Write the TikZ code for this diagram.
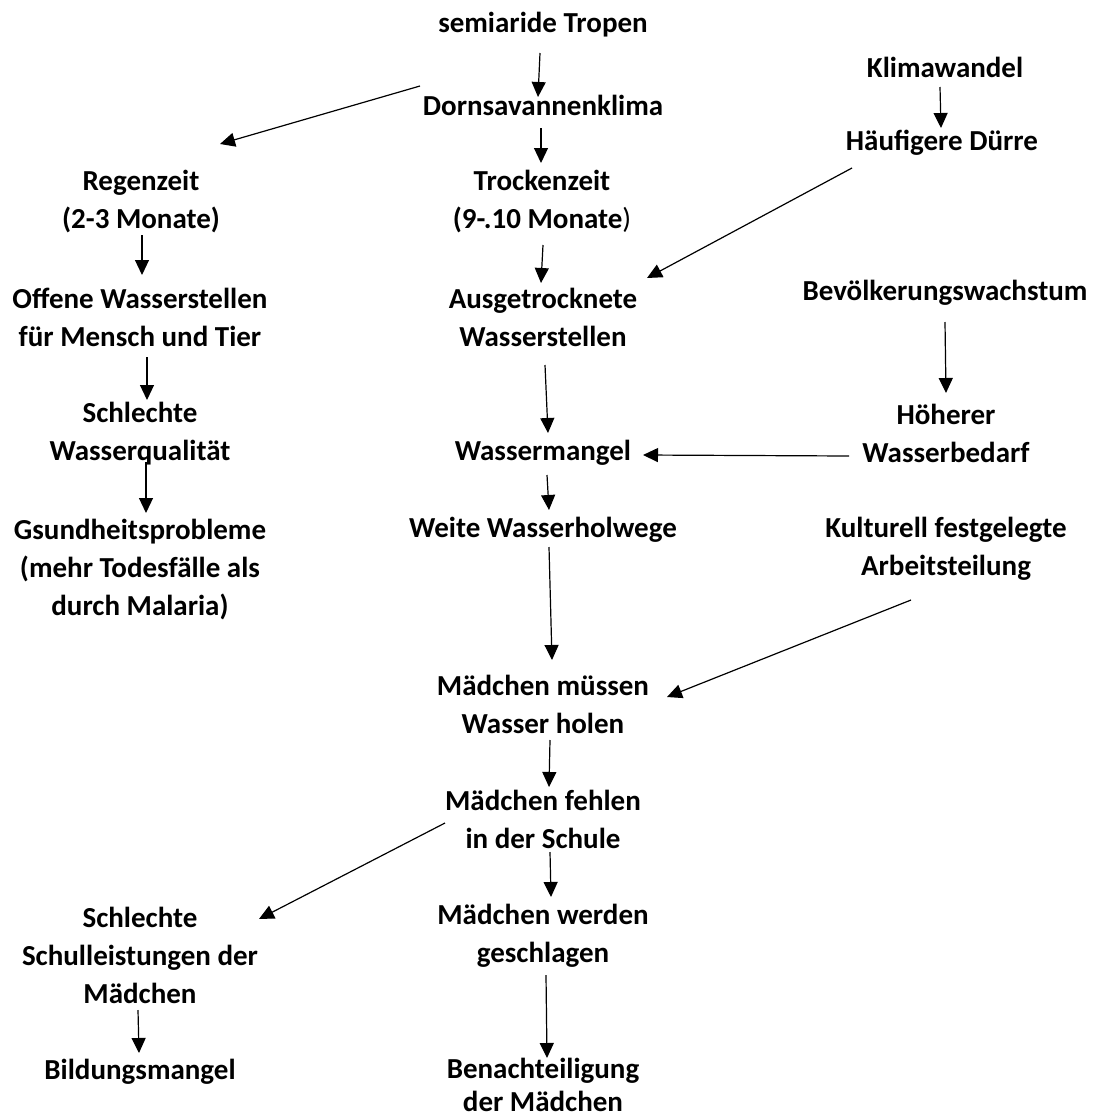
\documentclass[tikz,border=0pt]{standalone}
\usepackage{fontspec}
\setmainfont{Carlito}
\usetikzlibrary{arrows.meta,calc}
\tikzset{
  lbl/.style={font=\fontsize{29}{38}\selectfont\bfseries, align=center, inner sep=0pt},
  arr/.style={line width=1.2pt, -{Triangle[length=15pt,width=14pt]}}
}
\begin{document}
\begin{tikzpicture}[x=1pt,y=-1pt]
\useasboundingbox (0,0) rectangle (1095,1119);
% nodes
\node[lbl] (trop) at (543,25) {semiaride Tropen};
\node[lbl] (dorn) at (543,105) {Dornsavannenklima};
\node[lbl] (klima) at (945,67) {Klimawandel};
\node[lbl] (haeuf) at (942,143) {Häufigere Dürre};
\node[lbl] (reg) at (141,202) {Regenzeit\\(2-3 Monate)};
\node[lbl] (trock) at (542,202) {Trockenzeit\\(9-.10 Monate{\mdseries )}};
\node[lbl] (offene) at (140,317) {Offene Wasserstellen\\für Mensch und Tier};
\node[lbl] (ausg) at (543,317) {Ausgetrocknete\\Wasserstellen};
\node[lbl] (bev) at (945,293) {Bevölkerungswachstum};
\node[lbl] (schl) at (140,434) {Schlechte\\Wasserqualität};
\node[lbl] (wm) at (543,453) {Wassermangel};
\node[lbl] (hoeh) at (946,433) {Höherer\\Wasserbedarf};
\node[lbl] (gsund) at (140,570) {Gsundheitsprobleme\\(mehr Todesfälle als\\durch Malaria)};
\node[lbl] (weite) at (543,530) {Weite Wasserholwege};
\node[lbl] (kult) at (946,549) {Kulturell festgelegte\\Arbeitsteilung};
\node[lbl] (muessen) at (543,704) {Mädchen müssen\\Wasser holen};
\node[lbl] (fehlen) at (543,819) {Mädchen fehlen\\in der Schule};
\node[lbl] (schul) at (140,955) {Schlechte\\Schulleistungen der\\Mädchen};
\node[lbl] (werden) at (543,936) {Mädchen werden\\geschlagen};
\node[lbl] (bild) at (140,1072) {Bildungsmangel};
\node[lbl, font=\fontsize{29}{33}\selectfont\bfseries] (benacht) at (543,1085) {Benachteiligung\\der Mädchen};
% connectors
\draw[arr] ($(trop)+(-3,28)$) -- ($(dorn)+(-5,-8)$);
\draw[arr] ($(dorn)+(-123,-19)$) -- ($(reg)+(79,-58)$);
\draw[arr] ($(dorn)+(-2,23)$) -- ($(trock)+(-1,-39)$);
\draw[arr] ($(klima)+(-5,20)$) -- ($(haeuf)+(-1,-15)$);
\draw[arr] ($(haeuf)+(-90,25)$) -- ($(ausg)+(104,-39)$);
\draw[arr] ($(reg)+(1,33)$) -- ($(offene)+(2,-42)$);
\draw[arr] ($(trock)+(1,43)$) -- ($(ausg)+(-2,-34)$);
\draw[arr] ($(offene)+(7,40)$) -- ($(schl)+(7,-34)$);
\draw[arr] ($(ausg)+(2,48)$) -- ($(wm)+(5,-20)$);
\draw[arr] ($(bev)+(0,29)$) -- ($(hoeh)+(0,-40)$);
\draw[arr] ($(hoeh)+(-97,23)$) -- ($(wm)+(100,2)$);
\draw[arr] ($(schl)+(6,28)$) -- ($(gsund)+(6,-57)$);
\draw[arr] ($(wm)+(4,22)$) -- ($(weite)+(6,-20)$);
\draw[arr] ($(weite)+(6,17)$) -- ($(muessen)+(9,-44)$);
\draw[arr] ($(kult)+(-35,51)$) -- ($(muessen)+(124,-7)$);
\draw[arr] ($(muessen)+(7,36)$) -- ($(fehlen)+(6,-32)$);
\draw[arr] ($(fehlen)+(-98,4)$) -- ($(schul)+(119,-36)$);
\draw[arr] ($(fehlen)+(7,33)$) -- ($(werden)+(8,-39)$);
\draw[arr] ($(schul)+(-2,55)$) -- ($(bild)+(-1,-19)$);
\draw[arr] ($(werden)+(3,39)$) -- ($(benacht)+(4,-27)$);
\end{tikzpicture}
\end{document}
